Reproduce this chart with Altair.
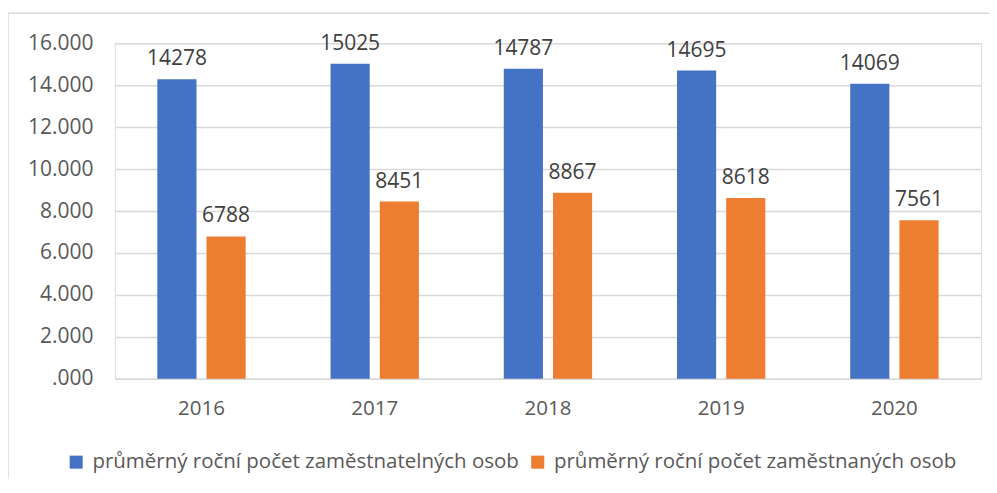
import altair as alt
import pandas as pd

years = ["2016", "2017", "2018", "2019", "2020"]
employable = [14278, 15025, 14787, 14695, 14069]
employed = [6788, 8451, 8867, 8618, 7561]
series = ["průměrný roční počet zaměstnatelných osob", "průměrný roční počet zaměstnaných osob"]
colors = ["#4472C4", "#ED7D31"]
y_ticks = [0, 2000, 4000, 6000, 8000, 10000, 12000, 14000, 16000]

rows = []
for i, y in enumerate(years):
    rows.append({"year": y, "series": series[0], "value": employable[i]})
    rows.append({"year": y, "series": series[1], "value": employed[i]})
df = pd.DataFrame(rows)

FONT = "Open Sans"
W, H = 867, 336

x_enc = alt.X("year:N", sort=years, title=None,
              scale=alt.Scale(paddingInner=0.49, paddingOuter=0.245),
              axis=alt.Axis(labelAngle=0, ticks=False, domain=True, domainColor="#d9d9d9",
                            domainWidth=1.5, labelFont=FONT, labelFontSize=20.5,
                            labelColor="#595959", labelPadding=20, grid=False))
xo_enc = alt.XOffset("series:N", sort=series,
                     scale=alt.Scale(paddingInner=0.204, paddingOuter=0))
y_enc = alt.Y("value:Q", title=None,
              scale=alt.Scale(domain=[0, 16000], nice=False),
              axis=alt.Axis(values=y_ticks, domain=False, ticks=False, grid=True,
                            gridColor="#d9d9d9", gridWidth=1.5,
                            labelExpr="datum.value == 0 ? '.000' : format(datum.value / 1000, '.3f')",
                            labelFont=FONT, labelFontSize=21, labelColor="#595959",
                            labelPadding=22))

base = alt.Chart(df)

bars = base.mark_bar().encode(
    x=x_enc, xOffset=xo_enc, y=y_enc,
    color=alt.Color("series:N", sort=series,
                    scale=alt.Scale(domain=series, range=colors),
                    legend=alt.Legend(title=None, orient="none", direction="horizontal",
                                      legendX=-49, legendY=409, symbolType="square",
                                      symbolSize=170, symbolStrokeWidth=0,
                                      labelFont=FONT, labelFontSize=20.5, labelColor="#595959",
                                      labelOffset=6, columnPadding=8, labelLimit=700)),
)

labels = base.mark_text(baseline="alphabetic", dy=-14, font=FONT, fontSize=21,
                        color="#404040").encode(
    x=alt.X("year:N", sort=years), xOffset=alt.XOffset("series:N", sort=series),
    y="value:Q", text="value:Q")

frame = alt.Chart(alt.Data(values=[{}])).mark_rect(
    fill="transparent", stroke="#d9d9d9", strokeWidth=1.5).encode(
    x=alt.value(-107), x2=alt.value(900), y=alt.value(-30), y2=alt.value(470))

chart = alt.layer(frame, bars, labels).properties(
    width=W, height=H,
    autosize=alt.AutoSizeParams(type="none"),
    padding={"left": 107, "top": 35, "right": 8, "bottom": 100},
).configure_view(stroke=None).configure(background="white")

chart.save("out.html", embed_options={"renderer": "svg", "actions": False})
